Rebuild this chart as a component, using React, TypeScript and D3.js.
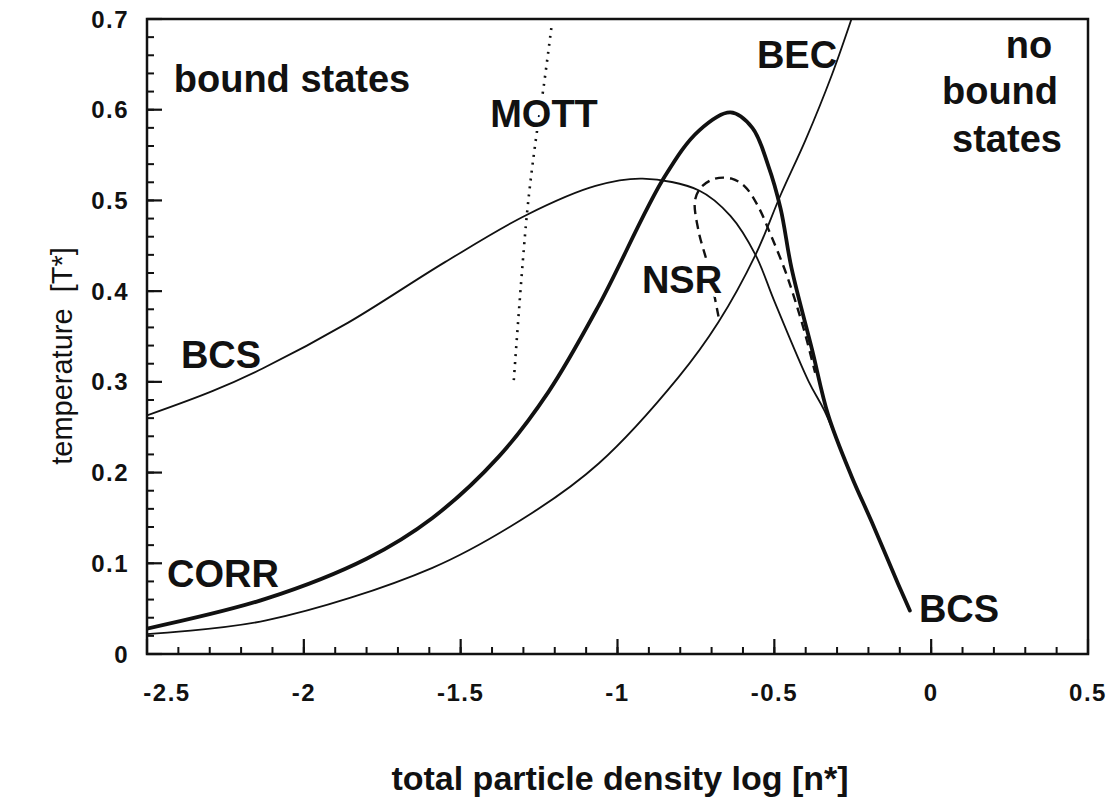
import React from 'react';
import * as d3 from 'd3';

const W = 1109;
const H = 801;
const PLOT = { left: 147, right: 1088, top: 19, bottom: 654 };

// axis ticks
const xTickValues = [-2.5, -2, -1.5, -1, -0.5, 0, 0.5];
const xTickLabels = ['-2.5', '-2', '-1.5', '-1', '-0.5', '0', '0.5'];
const yTickValues = [0, 0.1, 0.2, 0.3, 0.4, 0.5, 0.6, 0.7];
const yTickLabels = ['0', '0.1', '0.2', '0.3', '0.4', '0.5', '0.6', '0.7'];

// thick curve (CORR -> BCS)
const corrX = [-2.5, -2.12, -1.8, -1.59, -1.38, -1.22, -1.06, -0.85, -0.74, -0.64, -0.57, -0.52, -0.48, -0.445, -0.38, -0.328, -0.254, -0.19, -0.105, -0.068];
const corrY = [0.028, 0.061, 0.105, 0.15, 0.217, 0.289, 0.384, 0.526, 0.577, 0.597, 0.58, 0.539, 0.491, 0.425, 0.336, 0.263, 0.196, 0.146, 0.077, 0.048];

// thin BCS curve
const bcsX = [-2.5, -2.29, -2.13, -1.86, -1.55, -1.29, -1.07, -0.92, -0.74, -0.64, -0.56, -0.5, -0.39, -0.34, -0.254, -0.19, -0.105, -0.068];
const bcsY = [0.263, 0.29, 0.315, 0.365, 0.432, 0.484, 0.516, 0.524, 0.511, 0.483, 0.44, 0.389, 0.3, 0.268, 0.196, 0.146, 0.077, 0.048];

// BEC line
const becX = [-2.5, -2.12, -1.59, -1.27, -1.06, -0.806, -0.678, -0.56, -0.48, -0.4, -0.317, -0.254];
const becY = [0.022, 0.037, 0.095, 0.156, 0.21, 0.305, 0.366, 0.44, 0.506, 0.567, 0.638, 0.7];

// NSR dashed loop (ordered along the curve)
const nsrX = [-0.678, -0.71, -0.742, -0.753, -0.732, -0.689, -0.636, -0.593, -0.551, -0.509, -0.466, -0.434, -0.402, -0.37];
const nsrY = [0.372, 0.426, 0.467, 0.5, 0.515, 0.524, 0.524, 0.515, 0.493, 0.46, 0.423, 0.39, 0.353, 0.31];

// MOTT dotted line
const mottX = [-1.211, -1.236, -1.26, -1.289, -1.331];
const mottY = [0.69, 0.624, 0.568, 0.484, 0.3];

const FONT = '"Liberation Sans", Arial, Helvetica, sans-serif';

function zip(xs: number[], ys: number[]): [number, number][] {
  return xs.map((x, i) => [x, ys[i]]);
}

export default function App() {
  const x = d3.scaleLinear().domain([-2.5, 0.5]).range([PLOT.left, PLOT.right]);
  const y = d3.scaleLinear().domain([0, 0.7]).range([PLOT.bottom, PLOT.top]);

  const lineCR = d3
    .line<[number, number]>()
    .x((d) => x(d[0]))
    .y((d) => y(d[1]))
    .curve(d3.curveCatmullRom.alpha(0.5));

  const xMinor = d3.range(-2.5, 0.5 + 1e-9, 0.1);
  const yMinor = d3.range(0, 0.7 + 1e-9, 0.02);

  const labelStyle = {
    fontFamily: FONT,
    fontWeight: 700,
    fontSize: 38,
    fill: '#111',
  } as React.CSSProperties;

  const halo = {
    stroke: '#fff',
    strokeWidth: 8,
    paintOrder: 'stroke',
    strokeLinejoin: 'round',
  } as React.CSSProperties;

  const tickStyle = { fontFamily: FONT, fontWeight: 700, fontSize: 24, letterSpacing: 1.5, fill: '#111' } as React.CSSProperties;

  return (
    <div style={{ position: 'absolute', left: 0, top: 0 }}>
      <svg width={W} height={H} style={{ display: 'block', background: '#fff' }}>
        <defs>
          <clipPath id="plotClip">
            <rect x={PLOT.left} y={PLOT.top} width={PLOT.right - PLOT.left} height={PLOT.bottom - PLOT.top} />
          </clipPath>
        </defs>

        {/* minor ticks */}
        {xMinor.map((v, i) => (
          <line key={'xm' + i} x1={x(v)} x2={x(v)} y1={PLOT.bottom} y2={PLOT.bottom - 7} stroke="#111" strokeWidth={2} />
        ))}
        {yMinor.map((v, i) => (
          <line key={'ym' + i} x1={PLOT.left} x2={PLOT.left + 7} y1={y(v)} y2={y(v)} stroke="#111" strokeWidth={2} />
        ))}
        {/* major ticks */}
        {xTickValues.map((v, i) => (
          <line key={'xM' + i} x1={x(v)} x2={x(v)} y1={PLOT.bottom} y2={PLOT.bottom - 15} stroke="#111" strokeWidth={2.2} />
        ))}
        {yTickValues.map((v, i) => (
          <line key={'yM' + i} x1={PLOT.left} x2={PLOT.left + 15} y1={y(v)} y2={y(v)} stroke="#111" strokeWidth={2.2} />
        ))}

        {/* frame */}
        <rect
          x={PLOT.left}
          y={PLOT.top}
          width={PLOT.right - PLOT.left}
          height={PLOT.bottom - PLOT.top}
          fill="none"
          stroke="#111"
          strokeWidth={2.5}
        />

        {/* tick labels */}
        {xTickValues.map((v, i) => (
          <text
            key={'xl' + i}
            x={x(v) + (i === 0 ? 20 : 0)}
            y={701}
            textAnchor="middle"
            style={tickStyle}
          >
            {xTickLabels[i]}
          </text>
        ))}
        {yTickValues.map((v, i) => (
          <text key={'yl' + i} x={129} y={y(v) + 8.5} textAnchor="end" style={tickStyle}>
            {yTickLabels[i]}
          </text>
        ))}

        {/* axis titles */}
        <text
          x={620}
          y={790}
          textAnchor="middle"
          style={{ fontFamily: FONT, fontWeight: 700, fontSize: 34, fill: '#111' }}
        >
          total particle density log [n*]
        </text>
        <text
          transform={`translate(72, 356) rotate(-90)`}
          textAnchor="middle"
          style={{ fontFamily: FONT, fontWeight: 400, fontSize: 29, fill: '#111', whiteSpace: 'pre' }}
        >
          {'temperature  [T*]'}
        </text>

        {/* curves */}
        <g clipPath="url(#plotClip)" fill="none" stroke="#111">
          <path d={lineCR(zip(becX, becY)) || ''} strokeWidth={1.8} />
          <path d={lineCR(zip(bcsX, bcsY)) || ''} strokeWidth={1.8} />
          <path d={lineCR(zip(corrX, corrY)) || ''} strokeWidth={3.8} strokeLinecap="round" />
          <path d={lineCR(zip(nsrX, nsrY)) || ''} strokeWidth={2.4} strokeDasharray="9,6" />
          <path d={lineCR(zip(mottX, mottY)) || ''} strokeWidth={2.6} strokeDasharray="2,6" />
        </g>

        {/* annotations */}
        <text x={292} y={92} textAnchor="middle" style={labelStyle}>bound states</text>
        <text x={544} y={127} textAnchor="middle" style={{ ...labelStyle, ...halo }}>MOTT</text>
        <text x={797} y={68} textAnchor="middle" style={labelStyle}>BEC</text>
        <text x={1029} y={58} textAnchor="middle" style={labelStyle}>no</text>
        <text x={1000} y={104} textAnchor="middle" style={labelStyle}>bound</text>
        <text x={1007} y={152} textAnchor="middle" style={labelStyle}>states</text>
        <text x={221} y={368} textAnchor="middle" style={labelStyle}>BCS</text>
        <text x={223} y={587} textAnchor="middle" style={labelStyle}>CORR</text>
        <text x={682} y={293} textAnchor="middle" style={{ ...labelStyle, ...halo }}>NSR</text>
        <text x={959} y={622} textAnchor="middle" style={labelStyle}>BCS</text>
      </svg>
    </div>
  );
}
